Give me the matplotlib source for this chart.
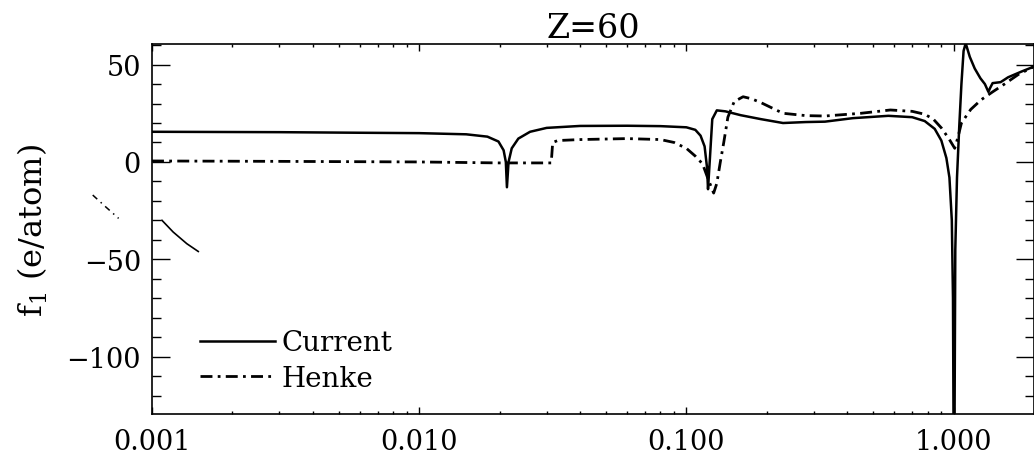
import matplotlib
matplotlib.use('Agg')
import matplotlib.pyplot as plt
from matplotlib.ticker import LogLocator, FixedLocator, MultipleLocator, FormatStrFormatter, NullFormatter

plt.rcParams['font.family'] = ['DejaVu Serif']
plt.rcParams['mathtext.fontset'] = 'dejavuserif'

# photon energy (keV) and f1 (e/atom)
current_e = [0.001, 0.003, 0.006, 0.01, 0.015, 0.018, 0.0198, 0.0207, 0.0211, 0.0213,
             0.0216, 0.0222, 0.0235, 0.026, 0.03, 0.04, 0.06, 0.08, 0.1, 0.108,
             0.113, 0.117, 0.1195, 0.1205, 0.1225, 0.125, 0.13, 0.14, 0.16, 0.19,
             0.23, 0.28, 0.33, 0.42, 0.57, 0.7, 0.78, 0.85, 0.9, 0.94,
             0.965, 0.985, 0.995, 1.0, 1.008, 1.015, 1.03, 1.05, 1.07, 1.09,
             1.11, 1.15, 1.2, 1.26, 1.31, 1.35, 1.37, 1.4, 1.5, 1.6,
             1.8, 2.0]
current_f1 = [15.5, 15.3, 15.0, 14.8, 14.2, 13.0, 10.5, 6.0, 0.0, -13.0,
              0.0, 7.0, 12.0, 15.5, 17.5, 18.5, 18.6, 18.4, 17.8, 16.5,
              13.5, 8.0, -3.0, -14.0, 2.0, 22.0, 26.5, 26.0, 24.0, 22.0,
              20.0, 20.5, 20.7, 22.5, 23.7, 23.0, 21.0, 17.0, 11.0, 2.0,
              -8.0, -30.0, -70.0, -140.0, -140.0, -45.0, -8.0, 18.0, 40.0, 57.0,
              61.0, 54.0, 48.0, 43.0, 40.0, 36.0, 38.0, 40.5, 41.0, 43.5,
              46.5, 49.0]

henke_e = [0.001, 0.003, 0.01, 0.02, 0.0312, 0.0316, 0.033, 0.04, 0.06, 0.08,
           0.09, 0.1, 0.108, 0.115, 0.12, 0.1265, 0.13, 0.134, 0.138, 0.143,
           0.151, 0.163, 0.175, 0.19, 0.23, 0.28, 0.33, 0.45, 0.58, 0.7,
           0.78, 0.84, 0.9, 0.96, 1.01, 1.04, 1.07, 1.16, 1.27, 1.4,
           1.55, 1.75, 2.0]
henke_f1 = [0.5, 0.3, 0.0, -0.5, -0.5, 10.0, 11.0, 11.5, 12.0, 11.5,
            10.0, 7.0, 3.0, -1.0, -8.0, -16.0, -11.0, 0.0, 10.0, 23.0,
            31.0, 33.5, 32.5, 30.5, 25.0, 23.8, 23.6, 25.0, 26.7, 26.0,
            24.5, 22.0, 17.5, 12.0, 7.0, 13.0, 20.0, 27.0, 32.0, 36.0,
            40.0, 45.0, 49.0]

# stray curve fragments visible at the far left of the scan
stray_a_e = [0.0006, 0.00067, 0.00075]
stray_a_f1 = [-17.0, -23.0, -29.0]
stray_b_e = [0.00109, 0.0012, 0.00135, 0.00149]
stray_b_f1 = [-30.0, -36.0, -42.0, -46.0]

xticks = [0.001, 0.01, 0.1, 1.0]
yticks = [-100, -50, 0, 50]

fig = plt.figure(figsize=(10.34, 4.64), dpi=100)
ax = fig.add_axes([0.147, 0.1056, 0.853, 0.797])

ax.plot(current_e, current_f1, '-', color='black', lw=1.8, label='Current')
ax.plot(henke_e, henke_f1, color='black', lw=2.0, linestyle=(0, (4.3, 1.9, 1.0, 1.9)), label='Henke')
ax.plot(stray_a_e, stray_a_f1, color='black', lw=1.1, linestyle=(0, (4, 3, 1, 3)), clip_on=False)
ax.plot(stray_b_e, stray_b_f1, '-', color='black', lw=1.2)

ax.set_xscale('log')
ax.set_xlim(0.001, 2.0)
ax.set_ylim(-129.5, 60.5)

ax.xaxis.set_major_locator(FixedLocator(xticks))
ax.xaxis.set_minor_locator(LogLocator(base=10, subs=range(2, 10)))
ax.xaxis.set_major_formatter(FormatStrFormatter('%.3f'))
ax.xaxis.set_minor_formatter(NullFormatter())
ax.yaxis.set_major_locator(FixedLocator(yticks))
ax.yaxis.set_minor_locator(MultipleLocator(10))

ax.tick_params(axis='both', which='both', direction='in', top=True, right=True, width=1.0, colors='black')
ax.tick_params(axis='x', which='major', length=5, pad=10, labelsize=19.5)
ax.tick_params(axis='x', which='minor', length=2.5)
ax.tick_params(axis='y', which='major', length=13, pad=8, labelsize=19.5)
ax.tick_params(axis='y', which='minor', length=6.5)
for s in ax.spines.values():
    s.set_linewidth(1.2)

ax.set_title('Z=60', fontsize=24, pad=4)
ax.set_ylabel('f$_1$ (e/atom)', fontsize=23, labelpad=12)

ax.legend(loc='lower left', bbox_to_anchor=(0.054, 0.06), frameon=False, fontsize=20,
          handlelength=2.7, handletextpad=0.25, labelspacing=0.3, borderpad=0, borderaxespad=0)

plt.savefig('out.png', dpi=100)
